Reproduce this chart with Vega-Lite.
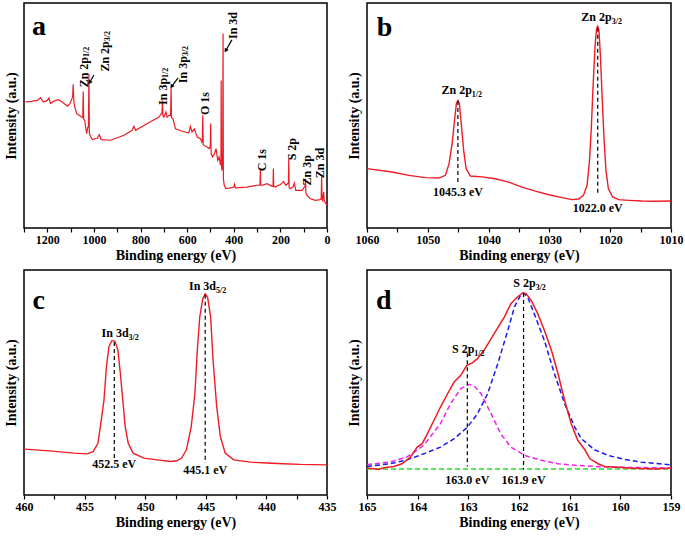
{
  "$schema": "https://vega.github.io/schema/vega-lite/v6.json",
  "background": "white",
  "padding": {"left": 3, "top": 2, "right": 0, "bottom": 0},
  "columns": 2,
  "spacing": {"row": 6, "column": 9},
  "config": {
    "font": "Liberation Serif",
    "view": {"stroke": "#000", "strokeWidth": 1.5},
    "axis": {"grid": false, "domain": false, "labelFont": "Liberation Serif", "labelFontSize": 12, "labelFontWeight": "bold", "labelColor": "#000", "titleFont": "Liberation Serif", "titleFontSize": 14, "titleFontWeight": "bold", "titleColor": "#000", "tickColor": "#000", "tickSize": 4, "tickWidth": 1.2, "labelFlush": false, "labelOverlap": false, "labelPadding": 2, "titlePadding": 3},
    "text": {"font": "Liberation Serif", "fontWeight": "bold", "color": "#000"}
  },
  "concat": [
    {
      "width": 303, "height": 225,
      "encoding": {
        "x": {"field": "E", "type": "quantitative", "scale": {"domain": [0, 1300], "reverse": true, "nice": false, "zero": false},
              "axis": {"title": "Binding energy (eV)", "format": "d", "values": [0,100,200,300,400,500,600,700,800,900,1000,1100,1200,1300], "labelExpr": "datum.value % 200 === 0 ? datum.label : ''"}},
        "y": {"field": "I", "type": "quantitative", "scale": {"domain": [0, 100], "nice": false, "zero": false},
              "axis": {"title": "Intensity (a.u.)", "labels": false, "ticks": false, "titlePadding": 6}}
      },
      "layer": [
        {
          "data": {"values": [
            {"E":1300,"I":56.0},{"E":1297,"I":56.0},{"E":1271,"I":56.3},{"E":1243,"I":56.7},{"E":1229,"I":57.9},{"E":1217,"I":56.0},{"E":1200,"I":56.7},{"E":1193,"I":57.8},{"E":1186,"I":55.3},{"E":1171,"I":56.4},{"E":1154,"I":57.0},{"E":1136,"I":56.0},{"E":1114,"I":54.1},{"E":1103,"I":55.3},{"E":1094,"I":57.5},{"E":1091,"I":59.0},{"E":1089,"I":63.9},{"E":1086,"I":56.0},{"E":1083,"I":54.1},{"E":1074,"I":50.8},{"E":1063,"I":50.1},{"E":1053,"I":49.3},{"E":1048,"I":49.0},{"E":1046,"I":60.7},{"E":1044,"I":48.5},{"E":1040,"I":47.9},{"E":1031,"I":41.9},{"E":1026,"I":44.9},{"E":1023.5,"I":45.0},{"E":1021.5,"I":68.6},{"E":1019.5,"I":42.0},{"E":1017,"I":41.2},{"E":1007,"I":39.3},{"E":986,"I":39.9},{"E":977,"I":41.5},{"E":969,"I":39.3},{"E":929,"I":39.0},{"E":871,"I":41.2},{"E":836,"I":43.4},{"E":829,"I":45.2},{"E":821,"I":43.4},{"E":771,"I":46.4},{"E":721,"I":49.3},{"E":711,"I":50.8},{"E":708,"I":51.0},{"E":706,"I":56.7},{"E":704,"I":50.0},{"E":700,"I":49.3},{"E":691,"I":51.6},{"E":686,"I":49.3},{"E":677,"I":50.1},{"E":671,"I":50.0},{"E":669,"I":62.4},{"E":667,"I":49.0},{"E":661,"I":48.6},{"E":650,"I":44.1},{"E":621,"I":43.0},{"E":593,"I":42.2},{"E":586,"I":45.2},{"E":579,"I":42.7},{"E":569,"I":44.1},{"E":557,"I":40.4},{"E":543,"I":39.7},{"E":537,"I":38.2},{"E":535,"I":39.0},{"E":533,"I":50.1},{"E":531,"I":37.0},{"E":527,"I":36.7},{"E":514,"I":36.0},{"E":506,"I":35.3},{"E":501,"I":36.0},{"E":499,"I":46.4},{"E":497,"I":33.0},{"E":491,"I":31.6},{"E":483,"I":33.0},{"E":476,"I":35.3},{"E":469,"I":30.1},{"E":463,"I":31.6},{"E":457,"I":27.9},{"E":455,"I":30.0},{"E":454,"I":65.6},{"E":452.5,"I":28.0},{"E":451,"I":25.6},{"E":449,"I":27.0},{"E":447.5,"I":30.0},{"E":446,"I":86.4},{"E":444.5,"I":22.0},{"E":441,"I":19.0},{"E":434,"I":17.5},{"E":414,"I":17.8},{"E":400,"I":18.2},{"E":397,"I":19.4},{"E":393,"I":17.8},{"E":343,"I":18.2},{"E":300,"I":19.0},{"E":289,"I":19.0},{"E":287.5,"I":19.5},{"E":286,"I":25.9},{"E":284.5,"I":19.2},{"E":279,"I":19.0},{"E":257,"I":19.7},{"E":236,"I":18.5},{"E":231.5,"I":18.6},{"E":230,"I":26.4},{"E":228.5,"I":18.4},{"E":223,"I":18.2},{"E":200,"I":19.3},{"E":186,"I":20.7},{"E":177,"I":19.0},{"E":165.5,"I":20.0},{"E":164,"I":30.8},{"E":162.5,"I":18.0},{"E":158,"I":17.5},{"E":146,"I":18.2},{"E":140,"I":20.0},{"E":134,"I":16.7},{"E":107,"I":16.7},{"E":97,"I":18.2},{"E":93.5,"I":19.0},{"E":92,"I":21.9},{"E":90.5,"I":15.5},{"E":86,"I":14.5},{"E":71,"I":13.0},{"E":50,"I":12.3},{"E":29,"I":12.6},{"E":25,"I":13.0},{"E":23,"I":22.7},{"E":21,"I":12.8},{"E":19,"I":12.3},{"E":14,"I":16.0},{"E":12,"I":12.0},{"E":10,"I":11.6},{"E":0,"I":10.1}
          ]},
          "mark": {"type": "line", "color": "#ee1c25", "strokeWidth": 1.2, "clip": true},
          "encoding": {}
        },
        {
          "data": {"values": [
            {"E":1000,"I":68.0,"E2":1017,"I2":64.9},
            {"E":639,"I":66.7,"E2":665,"I2":63.1},
            {"E":408,"I":83.6,"E2":433,"I2":79.1}
          ]},
          "mark": {"type": "rule", "color": "#000", "strokeWidth": 1.2},
          "encoding": {"x2": {"field": "E2"}, "y2": {"field": "I2"}}
        },
        {
          "data": {"values": [
            {"E":1000,"I":68.0,"E2":1017,"I2":64.9},
            {"E":639,"I":66.7,"E2":665,"I2":63.1},
            {"E":408,"I":83.6,"E2":433,"I2":79.1}
          ]},
          "mark": {"type": "point", "shape": "triangle", "filled": true, "color": "#000", "opacity": 1, "size": 22, "angle": 212},
          "encoding": {"x": {"field": "E2", "type": "quantitative"}, "y": {"field": "I2", "type": "quantitative"}}
        },
        {
          "data": {"values": [
            {"E":1043,"I":76.0,"main":"Zn 2p","sub":"1/2"},
            {"E":952,"I":83.0,"main":"Zn 2p","sub":"3/2"},
            {"E":704,"I":66.7,"main":"In 3p","sub":"1/2"},
            {"E":618,"I":76.4,"main":"In 3p","sub":"3/2"},
            {"E":523,"I":60.4,"main":"O 1s","sub":""},
            {"E":403,"I":96.0,"main":"In 3d","sub":""},
            {"E":279,"I":35.1,"main":"C 1s","sub":""},
            {"E":150,"I":40.0,"main":"S 2p","sub":""},
            {"E":86,"I":32.4,"main":"Zn 3p","sub":""},
            {"E":30,"I":35.6,"main":"Zn 3d","sub":""}
          ]},
          "layer": [
            {"mark": {"type": "text", "angle": 270, "align": "right", "baseline": "middle", "fontSize": 12},
             "encoding": {"text": {"field": "main"}}},
            {"mark": {"type": "text", "angle": 270, "align": "left", "baseline": "middle", "fontSize": 8, "dy": 3},
             "encoding": {"text": {"field": "sub"}}}
          ]
        },
        {
          "data": {"values": [{"E":1266,"I":85.8,"t":"a"}]},
          "mark": {"type": "text", "align": "left", "baseline": "alphabetic", "fontSize": 28},
          "encoding": {"text": {"field": "t"}}
        }
      ]
    },
    {
      "width": 304, "height": 225,
      "encoding": {
        "x": {"field": "E", "type": "quantitative", "scale": {"domain": [1010, 1060], "reverse": true, "nice": false, "zero": false},
              "axis": {"title": "Binding energy (eV)", "format": "d", "values": [1010,1015,1020,1025,1030,1035,1040,1045,1050,1055,1060], "labelExpr": "datum.value % 10 === 0 ? datum.label : ''"}},
        "y": {"field": "I", "type": "quantitative", "scale": {"domain": [0, 100], "nice": false, "zero": false},
              "axis": {"title": "Intensity (a.u.)", "labels": false, "ticks": false, "titlePadding": 6}}
      },
      "layer": [
        {
          "data": {"values": [
            {"E":1060,"I":26.4},{"E":1055.9,"I":24.9},{"E":1053.1,"I":23.4},{"E":1050.4,"I":22.4},{"E":1048.2,"I":22.2},{"E":1047.1,"I":23.4},{"E":1046.5,"I":28.6},{"E":1046.0,"I":37.5},{"E":1045.6,"I":47.9},{"E":1045.3,"I":55.3},{"E":1045.05,"I":56.7},{"E":1044.8,"I":55.3},{"E":1044.5,"I":46.4},{"E":1044.1,"I":34.5},{"E":1043.7,"I":26.4},{"E":1043.0,"I":23.1},{"E":1041.1,"I":22.7},{"E":1038.9,"I":21.9},{"E":1036.7,"I":20.4},{"E":1034.5,"I":18.2},{"E":1032.3,"I":16.4},{"E":1030.1,"I":14.8},{"E":1027.9,"I":13.5},{"E":1026.3,"I":12.6},{"E":1025.2,"I":12.9},{"E":1024.4,"I":14.5},{"E":1023.8,"I":19.0},{"E":1023.4,"I":30.1},{"E":1023.1,"I":44.9},{"E":1022.8,"I":64.1},{"E":1022.5,"I":80.4},{"E":1022.25,"I":88.6},{"E":1022.05,"I":89.6},{"E":1021.85,"I":87.9},{"E":1021.6,"I":76.0},{"E":1021.3,"I":56.7},{"E":1021.0,"I":39.0},{"E":1020.7,"I":25.6},{"E":1020.3,"I":17.5},{"E":1019.6,"I":13.8},{"E":1018.6,"I":12.6},{"E":1017.0,"I":12.3},{"E":1014.8,"I":12.0},{"E":1012.6,"I":11.9},{"E":1010,"I":12.0}
          ]},
          "mark": {"type": "line", "color": "#ee1c25", "strokeWidth": 1.4, "clip": true},
          "encoding": {}
        },
        {
          "data": {"values": [{"E":1045.05,"I":56.5,"I2":20.5},{"E":1022.05,"I":89.0,"I2":14.5}]},
          "mark": {"type": "rule", "color": "#000", "strokeWidth": 1.2, "strokeDash": [4, 3]},
          "encoding": {"y2": {"field": "I2"}}
        },
        {
          "data": {"values": [{"E":1044.4,"I":59.5,"main":"Zn 2p","sub":"1/2"},{"E":1021.4,"I":92.0,"main":"Zn 2p","sub":"3/2"}]},
          "layer": [
            {"mark": {"type": "text", "align": "right", "baseline": "alphabetic", "fontSize": 12, "dx": 10},
             "encoding": {"text": {"field": "main"}}},
            {"mark": {"type": "text", "align": "left", "baseline": "alphabetic", "fontSize": 8, "dx": 10, "dy": 3},
             "encoding": {"text": {"field": "sub"}}}
          ]
        },
        {
          "data": {"values": [{"E":1045.05,"I":14.2,"t":"1045.3 eV"},{"E":1022.05,"I":7.1,"t":"1022.0 eV"}]},
          "mark": {"type": "text", "align": "center", "baseline": "alphabetic", "fontSize": 12},
          "encoding": {"text": {"field": "t"}}
        },
        {
          "data": {"values": [{"E":1058.4,"I":85.5,"t":"b"}]},
          "mark": {"type": "text", "align": "left", "baseline": "alphabetic", "fontSize": 28},
          "encoding": {"text": {"field": "t"}}
        }
      ]
    },
    {
      "width": 303, "height": 225,
      "encoding": {
        "x": {"field": "E", "type": "quantitative", "scale": {"domain": [435, 460], "reverse": true, "nice": false, "zero": false},
              "axis": {"title": "Binding energy (eV)", "format": "d", "values": [435,437.5,440,442.5,445,447.5,450,452.5,455,457.5,460], "labelExpr": "datum.value % 5 === 0 ? datum.label : ''"}},
        "y": {"field": "I", "type": "quantitative", "scale": {"domain": [0, 100], "nice": false, "zero": false},
              "axis": {"title": "Intensity (a.u.)", "labels": false, "ticks": false, "titlePadding": 6}}
      },
      "layer": [
        {
          "data": {"values": [
            {"E":460,"I":20.4},{"E":457.9,"I":19.6},{"E":455.9,"I":18.6},{"E":454.8,"I":18.3},{"E":454.3,"I":19.3},{"E":453.9,"I":23.0},{"E":453.7,"I":30.4},{"E":453.4,"I":42.2},{"E":453.2,"I":56.9},{"E":453.0,"I":65.8},{"E":452.75,"I":68.6},{"E":452.5,"I":68.4},{"E":452.25,"I":64.3},{"E":452.05,"I":54.0},{"E":451.85,"I":42.2},{"E":451.65,"I":30.4},{"E":451.4,"I":23.0},{"E":451.0,"I":18.6},{"E":450.1,"I":16.4},{"E":449.0,"I":15.6},{"E":447.9,"I":14.9},{"E":447.4,"I":15.2},{"E":447.0,"I":16.4},{"E":446.6,"I":20.1},{"E":446.2,"I":30.4},{"E":445.9,"I":45.1},{"E":445.7,"I":64.3},{"E":445.5,"I":79.1},{"E":445.25,"I":87.2},{"E":445.05,"I":89.4},{"E":444.85,"I":87.9},{"E":444.6,"I":79.1},{"E":444.4,"I":59.9},{"E":444.1,"I":39.2},{"E":443.8,"I":26.0},{"E":443.4,"I":18.6},{"E":442.7,"I":15.6},{"E":441.3,"I":14.6},{"E":440.0,"I":14.2},{"E":438.6,"I":13.9},{"E":437.2,"I":13.6},{"E":435,"I":13.4}
          ]},
          "mark": {"type": "line", "color": "#ee1c25", "strokeWidth": 1.4, "clip": true},
          "encoding": {}
        },
        {
          "data": {"values": [{"E":452.55,"I":68.0,"I2":15.7},{"E":445.05,"I":89.0,"I2":14.2}]},
          "mark": {"type": "rule", "color": "#000", "strokeWidth": 1.2, "strokeDash": [4, 3]},
          "encoding": {"y2": {"field": "I2"}}
        },
        {
          "data": {"values": [{"E":452.07,"I":70.3,"main":"In 3d","sub":"3/2"},{"E":444.86,"I":91.0,"main":"In 3d","sub":"5/2"}]},
          "layer": [
            {"mark": {"type": "text", "align": "right", "baseline": "alphabetic", "fontSize": 12, "dx": 8.5},
             "encoding": {"text": {"field": "main"}}},
            {"mark": {"type": "text", "align": "left", "baseline": "alphabetic", "fontSize": 8, "dx": 8.5, "dy": 3},
             "encoding": {"text": {"field": "sub"}}}
          ]
        },
        {
          "data": {"values": [{"E":452.55,"I":12.0,"t":"452.5 eV"},{"E":445.05,"I":9.2,"t":"445.1 eV"}]},
          "mark": {"type": "text", "align": "center", "baseline": "alphabetic", "fontSize": 12},
          "encoding": {"text": {"field": "t"}}
        },
        {
          "data": {"values": [{"E":459.3,"I":82.8,"t":"c"}]},
          "mark": {"type": "text", "align": "left", "baseline": "alphabetic", "fontSize": 28},
          "encoding": {"text": {"field": "t"}}
        }
      ]
    },
    {
      "width": 304, "height": 225,
      "encoding": {
        "x": {"field": "E", "type": "quantitative", "scale": {"domain": [159, 165], "reverse": true, "nice": false, "zero": false},
              "axis": {"title": "Binding energy (eV)", "format": "d", "values": [159,159.5,160,160.5,161,161.5,162,162.5,163,163.5,164,164.5,165], "labelExpr": "datum.value % 1 === 0 ? datum.label : ''"}},
        "y": {"field": "I", "type": "quantitative", "scale": {"domain": [0, 100], "nice": false, "zero": false},
              "axis": {"title": "Intensity (a.u.)", "labels": false, "ticks": false, "titlePadding": 6}}
      },
      "layer": [
        {
          "data": {"values": [{"E":165,"I":11.6},{"E":159,"I":11.6}]},
          "mark": {"type": "line", "color": "#22dd22", "strokeWidth": 1.5, "strokeDash": [5, 3]},
          "encoding": {}
        },
        {
          "data": {"values": [
            {"E":165,"I":13.5},{"E":164.54,"I":14.7},{"E":164.21,"I":16.9},{"E":163.88,"I":22.1},{"E":163.55,"I":31.7},{"E":163.35,"I":40.6},{"E":163.15,"I":47.3},{"E":162.98,"I":49.2},{"E":162.88,"I":48.3},{"E":162.75,"I":45.0},{"E":162.55,"I":36.1},{"E":162.36,"I":27.2},{"E":162.16,"I":21.3},{"E":161.89,"I":17.6},{"E":161.56,"I":15.4},{"E":161.23,"I":13.9},{"E":160.9,"I":13.2},{"E":160.24,"I":12.4},{"E":159,"I":12.0}
          ]},
          "mark": {"type": "line", "color": "#ee22ee", "strokeWidth": 1.5, "strokeDash": [5, 3]},
          "encoding": {}
        },
        {
          "data": {"values": [
            {"E":165,"I":12.7},{"E":164.54,"I":13.9},{"E":164.21,"I":15.6},{"E":163.88,"I":18.3},{"E":163.55,"I":21.3},{"E":163.28,"I":25.0},{"E":163.02,"I":30.1},{"E":162.82,"I":36.1},{"E":162.62,"I":45.0},{"E":162.42,"I":58.3},{"E":162.22,"I":73.2},{"E":162.09,"I":83.6},{"E":161.96,"I":89.2},{"E":161.91,"I":89.8},{"E":161.83,"I":88.0},{"E":161.7,"I":80.6},{"E":161.5,"I":68.7},{"E":161.3,"I":53.9},{"E":161.1,"I":40.6},{"E":160.9,"I":30.2},{"E":160.77,"I":25.0},{"E":160.51,"I":20.1},{"E":160.24,"I":17.6},{"E":159.91,"I":15.8},{"E":159.58,"I":14.6},{"E":159,"I":13.4}
          ]},
          "mark": {"type": "line", "color": "#1a1aee", "strokeWidth": 1.5, "strokeDash": [5, 3]},
          "encoding": {}
        },
        {
          "data": {"values": [
            {"E":165,"I":12.0},{"E":164.87,"I":11.7},{"E":164.77,"I":11.3},{"E":164.67,"I":12.1},{"E":164.47,"I":12.7},{"E":164.31,"I":13.9},{"E":164.14,"I":16.9},{"E":164.01,"I":21.3},{"E":163.91,"I":22.8},{"E":163.81,"I":27.2},{"E":163.68,"I":33.1},{"E":163.55,"I":39.1},{"E":163.41,"I":45.0},{"E":163.28,"I":50.2},{"E":163.15,"I":53.2},{"E":163.03,"I":57.6},{"E":162.92,"I":58.7},{"E":162.82,"I":60.6},{"E":162.69,"I":64.3},{"E":162.49,"I":71.7},{"E":162.29,"I":79.1},{"E":162.16,"I":85.0},{"E":162.03,"I":88.0},{"E":161.93,"I":89.8},{"E":161.86,"I":89.5},{"E":161.76,"I":86.5},{"E":161.63,"I":80.6},{"E":161.5,"I":73.2},{"E":161.36,"I":64.3},{"E":161.23,"I":53.9},{"E":161.1,"I":42.1},{"E":160.97,"I":31.7},{"E":160.84,"I":24.3},{"E":160.7,"I":20.1},{"E":160.6,"I":16.1},{"E":160.44,"I":13.9},{"E":160.31,"I":12.7},{"E":160.11,"I":12.4},{"E":159.84,"I":12.0},{"E":159.58,"I":11.8},{"E":159.32,"I":11.6},{"E":159,"I":12.0}
          ]},
          "mark": {"type": "line", "color": "#ee1c25", "strokeWidth": 1.5, "clip": true},
          "encoding": {}
        },
        {
          "data": {"values": [{"E":163.02,"I":63.0,"I2":12.7},{"E":161.91,"I":89.8,"I2":11.3}]},
          "mark": {"type": "rule", "color": "#000", "strokeWidth": 1.2, "strokeDash": [4, 3]},
          "encoding": {"y2": {"field": "I2"}}
        },
        {
          "data": {"values": [{"E":163.0,"I":63.3,"main":"S 2p","sub":"1/2"},{"E":161.79,"I":92.3,"main":"S 2p","sub":"3/2"}]},
          "layer": [
            {"mark": {"type": "text", "align": "right", "baseline": "alphabetic", "fontSize": 12, "dx": 6},
             "encoding": {"text": {"field": "main"}}},
            {"mark": {"type": "text", "align": "left", "baseline": "alphabetic", "fontSize": 8, "dx": 6, "dy": 3},
             "encoding": {"text": {"field": "sub"}}}
          ]
        },
        {
          "data": {"values": [{"E":163.02,"I":5.0,"t":"163.0 eV"},{"E":161.91,"I":5.0,"t":"161.9 eV"}]},
          "mark": {"type": "text", "align": "center", "baseline": "alphabetic", "fontSize": 12},
          "encoding": {"text": {"field": "t"}}
        },
        {
          "data": {"values": [{"E":164.82,"I":82.8,"t":"d"}]},
          "mark": {"type": "text", "align": "left", "baseline": "alphabetic", "fontSize": 28},
          "encoding": {"text": {"field": "t"}}
        }
      ]
    }
  ]
}
